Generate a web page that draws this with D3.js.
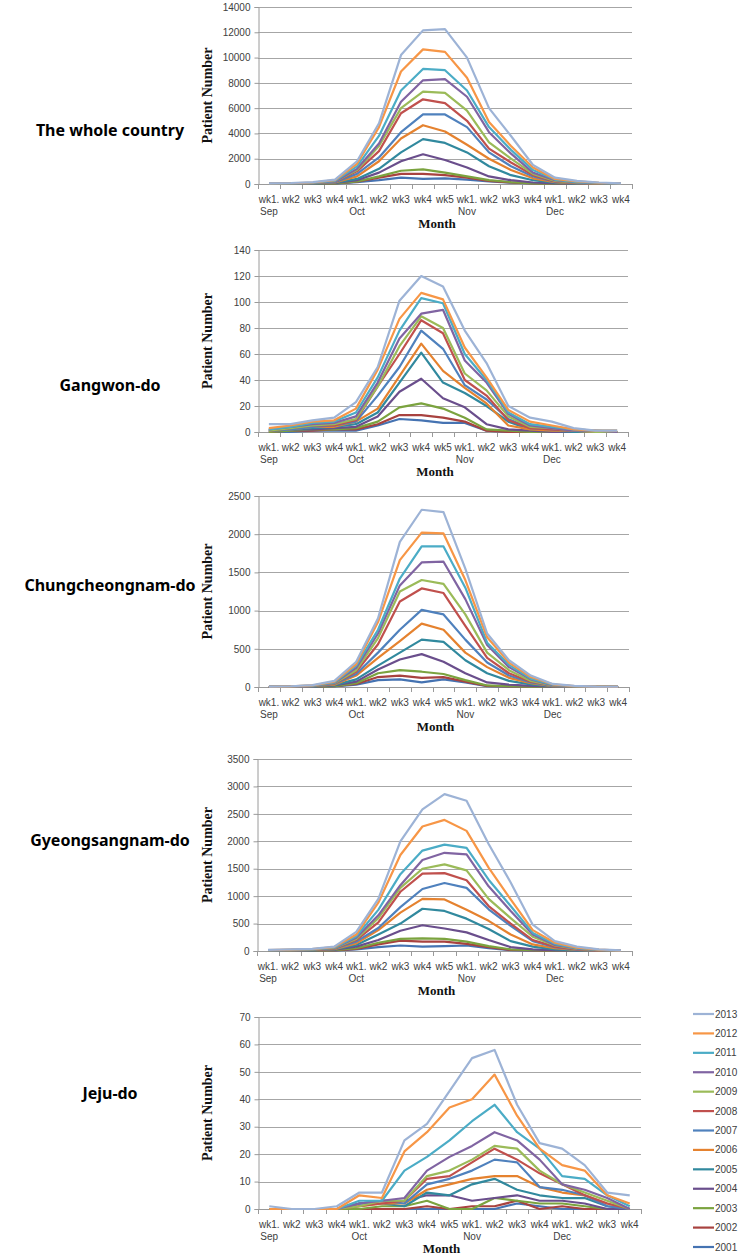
<!DOCTYPE html>
<html>
<head>
<meta charset="utf-8">
<script src="https://cdn.jsdelivr.net/npm/d3@7"></script>
<style>
  html, body { margin: 0; padding: 0; background: #fff; }
  svg { display: block; }
</style>
</head>
<body>
<svg id="chart" width="742" height="1257"></svg>
<script>
// ---------- DATA ----------
const weekLabels  = ["wk1.","wk2","wk3","wk4","wk1.","wk2","wk3","wk4","wk5","wk1.","wk2","wk3","wk4","wk1.","wk2","wk3","wk4"];
const monthLabels = ["Sep","","","","Oct","","","","","Nov","","","","Dec","","",""];
const years = ["2013","2012","2011","2010","2009","2008","2007","2006","2005","2004","2003","2002","2001"];
const yearColors = ["#9DB3D6","#F79646","#4BACC6","#8064A2","#9BBB59","#C0504D","#4F81BD","#E5822F","#31899E","#6A4E8C","#7BA33F","#A8423F","#4573B2"];

// rows follow `years` (2013 ... 2001)
const wholeCountry = [
  [50,80,150,350,1800,4800,10200,12150,12250,10000,6000,3800,1500,500,250,120,50],
  [40,60,120,300,1600,4500,8900,10650,10450,8400,4900,3000,1300,400,200,100,40],
  [30,50,100,250,1400,3800,7400,9100,9000,7400,4500,2700,1100,350,150,80,30],
  [30,50,100,200,1200,3200,6500,8200,8300,6900,4100,2400,900,300,130,60,30],
  [20,40,80,200,1100,3000,6000,7300,7200,5800,3300,2000,800,250,100,50,20],
  [20,40,80,180,1000,2600,5600,6700,6400,5000,2800,1700,700,200,90,40,20],
  [20,30,60,150,800,2100,4100,5500,5500,4500,2500,1400,600,180,80,40,20],
  [20,30,60,120,600,1800,3600,4650,4150,3100,2000,1100,450,150,60,30,15],
  [10,20,40,100,400,1200,2500,3550,3250,2500,1400,700,300,100,50,20,10],
  [10,20,40,80,300,900,1800,2350,1900,1300,600,300,120,50,20,10,5],
  [5,10,20,40,200,600,1050,1150,900,600,300,150,50,20,10,5,3],
  [5,10,20,40,180,500,800,800,700,500,250,120,40,20,10,5,3],
  [5,10,15,30,150,300,500,400,450,350,200,100,40,20,10,5,3]
];
const gangwon = [
  [6,6,9,11,23,50,101,120,112,78,53,20,11,8,3,1,1],
  [3,5,8,9,18,48,87,107,102,65,42,17,8,5,2,1,1],
  [2,4,7,8,15,42,78,103,99,60,40,15,6,4,2,1,1],
  [2,4,6,7,12,38,72,91,94,55,38,14,5,3,1,1,0],
  [1,3,5,6,10,35,66,89,80,45,32,12,4,3,1,0,0],
  [1,3,5,5,9,35,60,86,76,40,28,9,3,2,1,0,0],
  [1,2,4,5,8,28,50,78,64,36,25,10,3,2,1,0,0],
  [1,2,4,4,8,18,43,68,47,34,22,5,2,1,1,0,0],
  [1,2,3,4,6,15,38,61,38,30,20,8,2,1,0,0,0],
  [1,2,2,3,4,12,31,41,26,19,6,2,1,0,0,0,0],
  [0,1,2,2,3,8,19,22,18,11,2,1,0,0,0,0,0],
  [0,1,1,2,2,6,13,13,11,8,1,0,0,0,0,0,0],
  [0,0,1,1,1,5,10,9,7,7,1,0,0,0,0,0,0]
];
const chungnam = [
  [5,10,25,80,330,900,1900,2320,2290,1550,700,350,150,40,15,5,3],
  [3,8,20,70,300,850,1660,2020,2010,1400,650,320,130,35,12,5,2],
  [3,7,18,60,280,750,1420,1840,1840,1300,580,290,110,30,10,4,2],
  [2,6,16,55,250,700,1330,1630,1640,1150,550,260,100,25,10,3,2],
  [2,5,15,50,220,640,1250,1400,1350,950,450,220,80,20,8,3,1],
  [2,5,14,45,200,560,1120,1290,1230,800,380,180,70,20,8,3,1],
  [1,4,12,40,170,450,750,1010,950,620,320,150,60,15,5,2,1],
  [1,3,10,30,150,380,600,830,750,450,260,120,50,12,5,2,1],
  [1,3,8,25,100,280,450,620,590,350,180,80,35,10,3,1,0],
  [1,2,6,20,70,230,360,430,330,180,60,30,15,5,2,1,0],
  [0,1,4,12,50,180,220,200,170,90,20,10,5,2,1,0,0],
  [0,1,3,10,40,130,150,120,130,70,15,8,3,1,0,0,0],
  [0,1,2,8,30,90,100,60,100,60,10,5,2,1,0,0,0]
];
const gyeongnam = [
  [20,30,40,80,350,950,2000,2580,2860,2740,1950,1250,480,180,80,30,10],
  [15,25,35,70,300,880,1750,2270,2390,2190,1520,940,380,150,60,25,8],
  [12,20,30,60,270,750,1400,1830,1940,1880,1300,820,330,130,50,20,7],
  [10,18,28,55,240,650,1200,1660,1790,1760,1180,730,300,110,45,18,6],
  [10,15,25,50,220,600,1150,1500,1580,1470,950,600,260,100,40,15,5],
  [8,14,22,45,200,520,1080,1410,1420,1290,820,500,200,80,30,12,4],
  [7,12,20,40,170,420,800,1130,1240,1150,760,460,180,70,25,10,3],
  [6,10,18,35,140,380,700,950,940,750,550,300,120,50,20,8,3],
  [5,8,15,30,110,300,500,770,730,590,400,180,80,30,12,5,2],
  [4,6,12,25,80,200,370,470,410,340,200,70,30,12,5,2,1],
  [2,4,8,15,50,150,220,230,220,170,90,30,15,5,2,1,0],
  [2,3,6,12,40,120,190,170,170,130,70,20,10,4,2,1,0],
  [1,2,4,8,30,70,100,80,90,100,50,15,8,3,1,0,0]
];
const jeju = [
  [1,0,0,1,6,6,25,31,43,55,58,38,24,22,16,6,5],
  [0,0,0,0,5,4,21,28,37,40,49,34,22,16,14,5,2],
  [0,0,0,0,3,3,14,19,25,32,38,28,22,12,11,5,1],
  [0,0,0,0,2,3,4,14,19,23,28,25,18,9,7,4,0],
  [0,0,0,0,1,3,3,12,14,18,23,22,14,9,6,3,0],
  [0,0,0,0,1,2,3,11,12,17,22,18,13,9,5,2,0],
  [0,0,0,0,2,3,2,9,11,14,18,17,8,7,5,1,0],
  [0,0,0,0,1,2,2,7,9,11,12,12,8,6,5,2,0],
  [0,0,0,0,2,2,1,6,5,9,11,7,5,4,4,1,0],
  [0,0,0,0,2,3,3,5,5,3,4,5,3,3,2,0,0],
  [0,0,0,0,0,1,1,3,0,0,4,3,2,2,1,0,0],
  [0,0,0,0,0,0,0,1,0,1,1,3,0,1,0,0,0],
  [0,0,0,0,0,0,0,0,0,0,0,2,1,0,0,0,0]
];

const regionNames = ["The whole country","Gangwon-do","Chungcheongnam-do","Gyeongsangnam-do","Jeju-do"];
const regionData  = [wholeCountry, gangwon, chungnam, gyeongnam, jeju];
const yMaxes      = [14000, 140, 2500, 3500, 70];
const yTickSteps  = [2000, 20, 500, 500, 10];

// ---------- LAYOUT ----------
const panels = [
  {top: 7,    bottom: 184,  left: 258, right: 632, titleY: 130},
  {top: 250,  bottom: 432,  left: 258, right: 628, titleY: 385},
  {top: 496,  bottom: 687,  left: 258, right: 629, titleY: 585},
  {top: 759,  bottom: 951,  left: 257, right: 632, titleY: 840},
  {top: 1017, bottom: 1209, left: 258, right: 641, titleY: 1093}
];

const svg = d3.select("#chart");
const axisColor = "#9a9a9a";
const gridColor = "#a6a6a6";
const textColor = "#404040";

panels.forEach((p, pi) => {
  const g = svg.append("g");
  const x = d3.scaleBand().domain(d3.range(weekLabels.length)).range([p.left, p.right]).padding(0);
  const y = d3.scaleLinear().domain([0, yMaxes[pi]]).range([p.bottom, p.top]);
  const ticks = d3.range(0, yMaxes[pi] + 1e-9, yTickSteps[pi]);

  // gridlines
  g.append("g").selectAll("line").data(ticks.filter(t => t > 0)).join("line")
    .attr("x1", p.left).attr("x2", p.right)
    .attr("y1", d => Math.round(y(d)) + 0.5).attr("y2", d => Math.round(y(d)) + 0.5)
    .attr("stroke", gridColor).attr("stroke-width", 1.2);

  // y axis
  const yAxis = d3.axisLeft(y).tickValues(ticks).tickSize(4).tickPadding(4).tickFormat(d3.format("d"));
  const ya = g.append("g").attr("transform", `translate(${p.left + 0.5},0)`).call(yAxis);
  ya.select(".domain").attr("stroke", axisColor);
  ya.selectAll(".tick line").attr("stroke", axisColor);
  ya.selectAll(".tick text").attr("fill", textColor)
    .style("font-family", "'Liberation Sans', Arial, sans-serif").style("font-size", "10px");

  // x axis (ticks at category boundaries)
  const bounds = d3.range(weekLabels.length + 1).map(i => p.left + i * x.bandwidth());
  g.append("line").attr("x1", p.left).attr("x2", p.right)
    .attr("y1", p.bottom + 0.5).attr("y2", p.bottom + 0.5).attr("stroke", axisColor).attr("stroke-width", 1.2);
  g.append("g").selectAll("line").data(bounds).join("line")
    .attr("x1", d => Math.round(d) + 0.5).attr("x2", d => Math.round(d) + 0.5)
    .attr("y1", p.bottom).attr("y2", p.bottom + 5).attr("stroke", axisColor);

  const labG = g.append("g").style("font-family", "'Liberation Sans', Arial, sans-serif")
    .style("font-size", "10px").attr("fill", textColor);
  labG.selectAll("text.wk").data(weekLabels).join("text").attr("class", "wk")
    .attr("x", (d, i) => x(i) + x.bandwidth() / 2).attr("y", p.bottom + 19)
    .attr("text-anchor", "middle").text(d => d);
  labG.selectAll("text.mo").data(monthLabels).join("text").attr("class", "mo")
    .attr("x", (d, i) => x(i) + x.bandwidth() / 2).attr("y", p.bottom + 31)
    .attr("text-anchor", "middle").text(d => d);

  // axis titles
  g.append("text").attr("x", (p.left + p.right) / 2 - 8).attr("y", p.bottom + 44)
    .attr("text-anchor", "middle")
    .style("font-family", "'Liberation Serif', 'Times New Roman', serif")
    .style("font-weight", "bold").style("font-size", "13px").attr("fill", "#111")
    .text("Month");
  g.append("text")
    .attr("transform", `translate(212,${(p.top + p.bottom) / 2}) rotate(-90)`)
    .attr("text-anchor", "middle")
    .style("font-family", "'Liberation Serif', 'Times New Roman', serif")
    .style("font-weight", "bold").style("font-size", "14px").attr("fill", "#111")
    .text("Patient Number");

  // region title
  g.append("text").attr("x", 110).attr("y", p.titleY + 6).attr("text-anchor", "middle")
    .style("font-family", "'Noto Sans', 'Open Sans', sans-serif").style("font-weight", "bold")
    .style("font-size", "16px").attr("fill", "#000").text(regionNames[pi]);

  // lines (2001 drawn first, 2013 last)
  const line = d3.line().x((d, i) => x(i) + x.bandwidth() / 2).y(d => y(d));
  const series = regionData[pi].map((vals, k) => ({vals, k})).reverse();
  g.append("g").selectAll("path").data(series).join("path")
    .attr("d", d => line(d.vals))
    .attr("fill", "none")
    .attr("stroke", d => yearColors[d.k])
    .attr("stroke-width", 2.2)
    .attr("stroke-linejoin", "round");
});

// legend
const lg = svg.append("g").style("font-family", "'Liberation Sans', Arial, sans-serif")
  .style("font-size", "10px");
const ly = d3.scalePoint().domain(years).range([1014, 1247]);
lg.selectAll("line").data(years).join("line")
  .attr("x1", 693).attr("x2", 714)
  .attr("y1", d => ly(d)).attr("y2", d => ly(d))
  .attr("stroke", (d, i) => yearColors[i]).attr("stroke-width", 2.2);
lg.selectAll("text").data(years).join("text")
  .attr("x", 715).attr("y", d => ly(d) + 3.5).attr("fill", textColor).text(d => d);
</script>
</body>
</html>
